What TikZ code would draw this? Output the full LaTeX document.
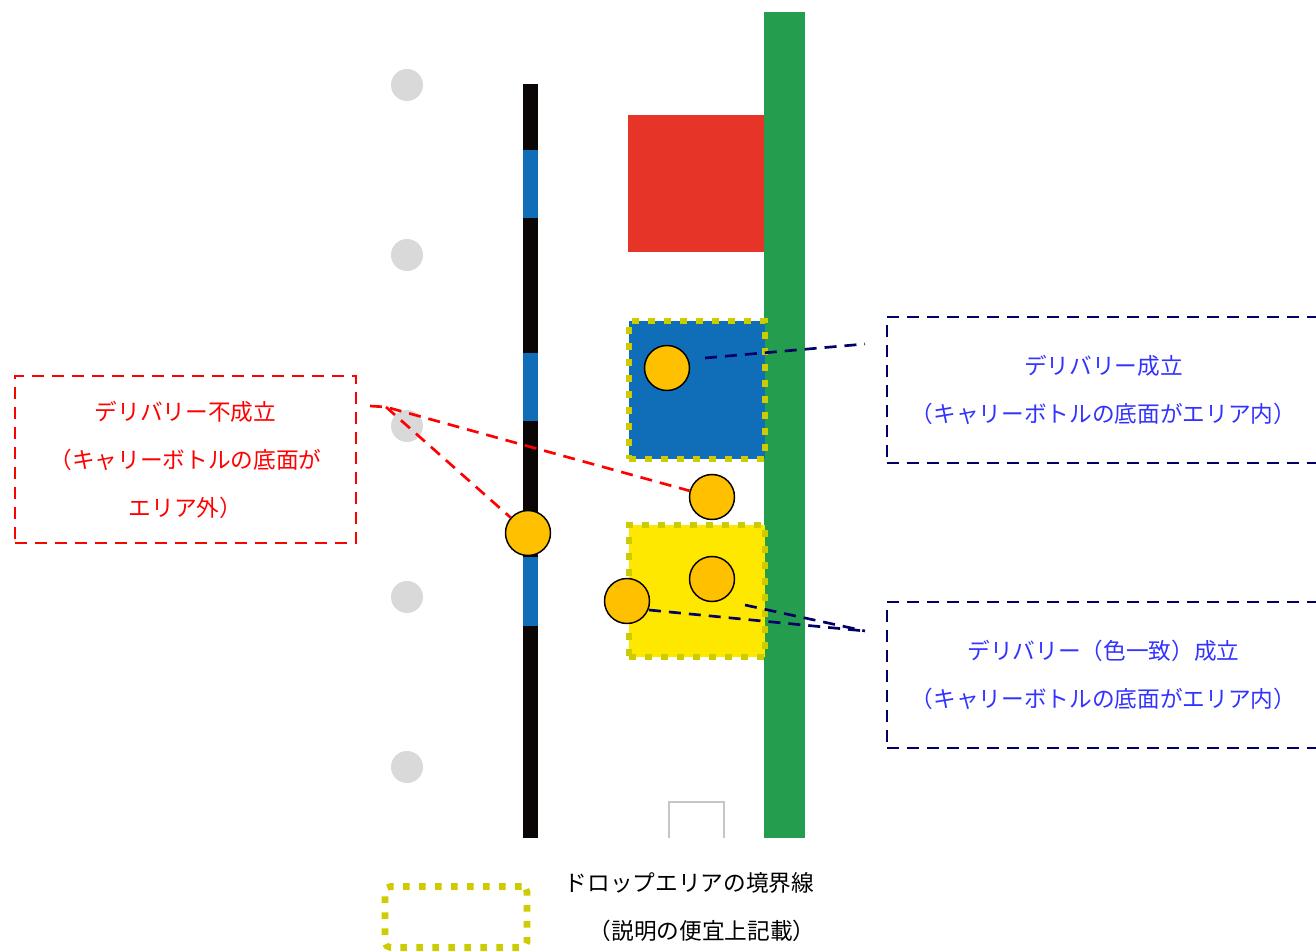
\documentclass[tikz,border=0pt]{standalone}
\usepackage{fontspec}
\setmainfont{Noto Sans CJK JP}
\definecolor{barblue}{RGB}{16,110,184}
\definecolor{bargreen}{RGB}{36,157,79}
\definecolor{boxred}{RGB}{230,52,40}
\definecolor{dotyellow}{RGB}{204,204,0}
\definecolor{fillyellow}{RGB}{255,232,0}
\definecolor{ballorange}{RGB}{255,192,0}
\definecolor{navyline}{RGB}{0,0,102}
\definecolor{txtblue}{RGB}{51,51,255}
\definecolor{dotgray}{RGB}{217,217,217}
\definecolor{barblack}{RGB}{10,6,6}
\begin{document}
\begin{tikzpicture}[x=0.75pt,y=-0.75pt,
  graydot/.style={circle,fill=dotgray,minimum size=24pt,inner sep=0pt},
  ball/.style={circle,fill=ballorange,draw=black,line width=1.1pt,minimum size=33.75pt,inner sep=0pt},
  droparea/.style={rectangle,draw=dotyellow,line width=4.9pt,dash pattern=on 4.9pt off 7.1pt,inner sep=0pt},
  reddash/.style={draw=red,line width=2pt,dash pattern=on 9pt off 6pt},
  navydash/.style={draw=navyline,line width=2pt,dash pattern=on 9pt off 6pt},
  jp/.style={font=\fontsize{17}{36}\selectfont,align=center},
  redbox/.style={rectangle,reddash,jp,text=red,minimum width=255.75pt,minimum height=125.25pt},
  bluebox/.style={rectangle,navydash,jp,text=txtblue,minimum width=324.75pt,minimum height=109.5pt}
]
\useasboundingbox (0,0) rectangle (1316,952);
\clip (0,0) rectangle (1316,952);
% gray dots
\foreach \yy/\nn in {85/g1,255/g2,426/g3,597/g4,767/g5}
  \node[graydot] (\nn) at (407,\yy) {};
% black/blue bar
\fill[barblack] (523,84) rectangle (538,838);
\fill[barblue] (523,150) rectangle (538,218);
\fill[barblue] (523,353) rectangle (538,421);
\fill[barblue] (523,557) rectangle (538,626);
% green bar
\fill[bargreen] (764,12) rectangle (805,838);
% red block
\fill[boxred] (628,115) rectangle (764,252);
% small gray outline
\draw[gray!45,line width=1.1pt] (669,838) -- (669,802) -- (724,802) -- (724,838);
% drop areas
\node[droparea,fill=barblue,minimum width=102pt,minimum height=103.5pt] (areaA) at (697,390) {};
\node[droparea,fill=fillyellow,minimum width=102pt,minimum height=99pt] (areaB) at (697,591) {};
% balls
\node[ball] (c1) at (667,368) {};
\node[ball] (c2) at (712,497) {};
\node[ball] (c3) at (712,579) {};
\node[ball] (c4) at (627,601) {};
\node[ball] (c5) at (528,533) {};
% text boxes
\node[redbox] (ng) at (185.5,459.5) {デリバリー不成立\\（キャリーボトルの底面が\\エリア外）};
\node[bluebox] (ok1) at (1103.5,390) {デリバリー成立\\（キャリーボトルの底面がエリア内）};
\node[bluebox] (ok2) at (1103.5,675) {デリバリー（色一致）成立\\（キャリーボトルの底面がエリア内）};
% connectors
\coordinate (r0) at (370,406);
\coordinate (r1) at (386,407);
\draw[reddash] (r0) -- (r1) -- (c2);
\draw[reddash] (r1) -- (c5);
\coordinate (n1s) at (705,358);
\coordinate (n1e) at (865,344);
\draw[navydash] (n1s) -- (n1e);
\coordinate (n2a) at (649,610);
\coordinate (n2b) at (745,605);
\coordinate (n2e) at (865,631);
\draw[navydash] (n2a) -- (n2e);
\draw[navydash] (n2b) -- (n2e);
% legend
\node[droparea,rounded corners=4pt,minimum width=106.5pt,minimum height=45.75pt] (legbox) at (456,917) {};
\node[jp,anchor=west] (leg1) at (560,883) {ドロップエリアの境界線};
\node[jp] (leg2) at (702,931) {（説明の便宜上記載）};
\end{tikzpicture}
\end{document}
